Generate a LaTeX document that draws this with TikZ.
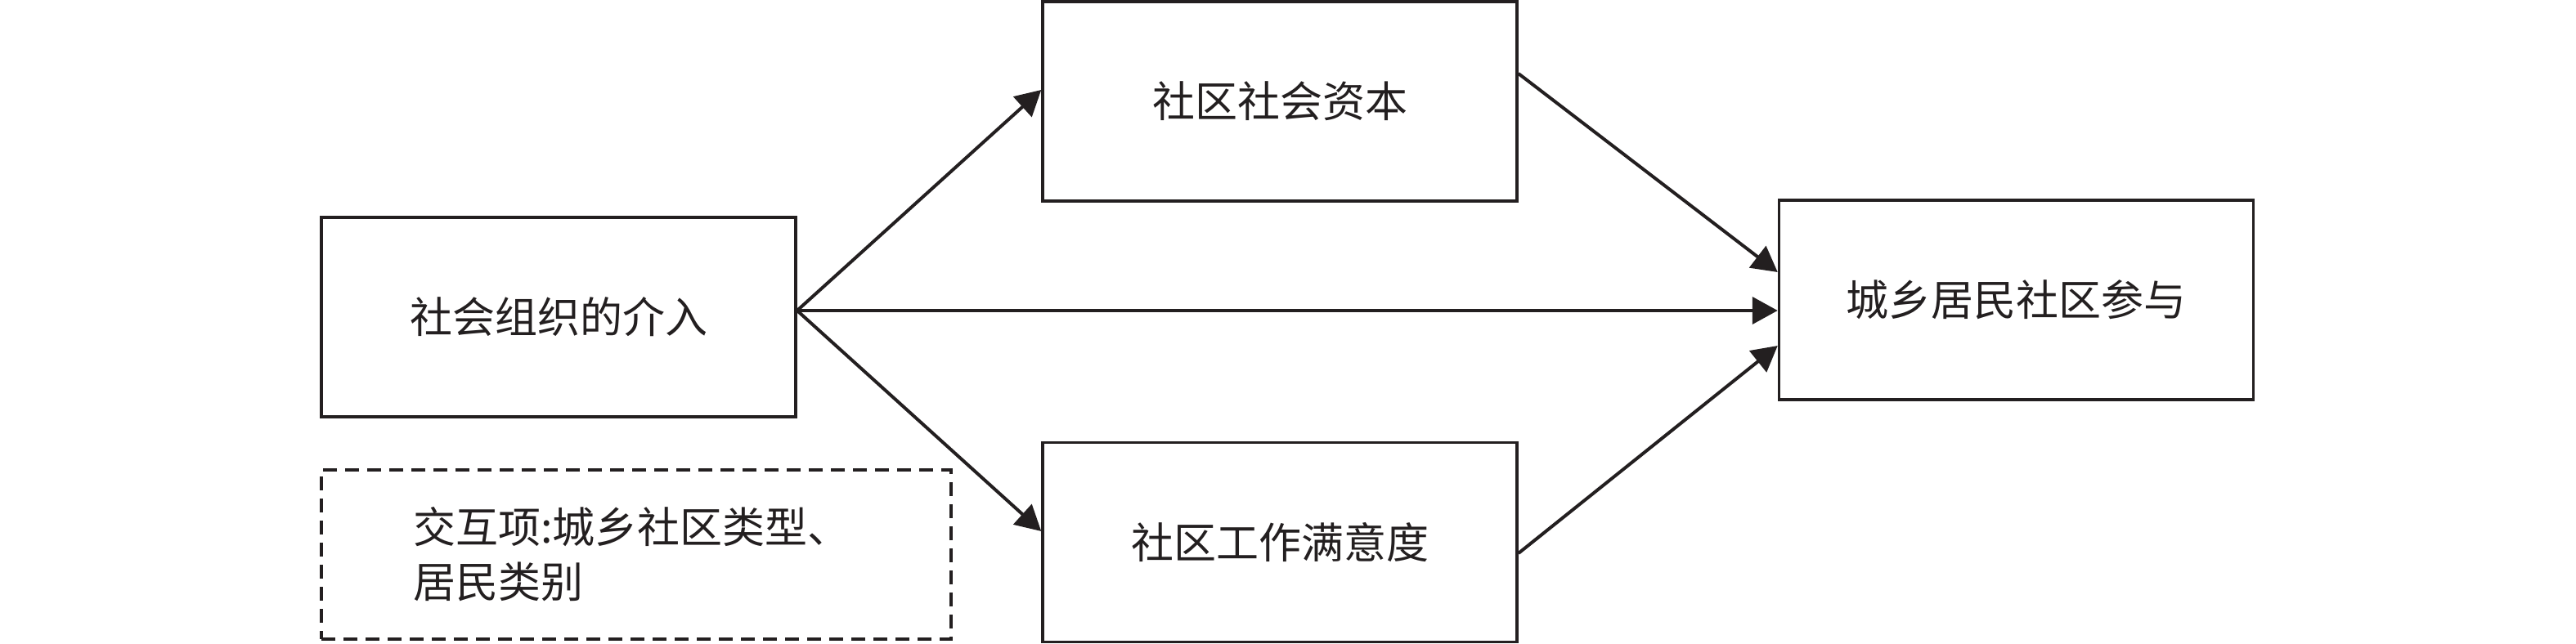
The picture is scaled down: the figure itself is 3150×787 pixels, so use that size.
\documentclass[tikz,border=0pt]{standalone}
\usepackage{fontspec}
\newfontfamily\cjk{Noto Sans CJK SC}
\usetikzlibrary{arrows.meta,calc}
\definecolor{ink}{RGB}{35,31,32}
\begin{document}
\begin{tikzpicture}[x=1pt,y=-1pt,
  box/.style={draw=ink, line width=3.5pt, minimum width=580pt, minimum height=244pt,
    inner sep=0pt, text=ink, font=\cjk\fontsize{52}{67}\selectfont},
  dbox/.style={box, dashed, dash pattern=on 17pt off 10pt, minimum width=770pt, minimum height=207pt,
    text width=546pt, align=left},
  arr/.style={draw=ink, line width=4pt, -{Triangle[length=31pt,width=33pt]}}]
\useasboundingbox (0,0) rectangle (3150,787);
\node[box] (L) at (683,388) {社会组织的介入};
\node[box] (T) at (1565,124) {社区社会资本};
\node[box] (B) at (1565,663.5) {社区工作满意度};
\node[box] (R) at (2465.5,367) {城乡居民社区参与};
\node[dbox] (D) at (778,678.5) {交互项:城乡社区类型、\\居民类别};
\coordinate (s) at ([yshift=8pt]L.east);
\draw[arr] (s) -- ([yshift=14pt]T.west);
\draw[arr] (s) -- (s -| R.west);
\draw[arr] (s) -- ([yshift=13.5pt]B.west);
\draw[arr] ([yshift=34pt]T.east) -- ([yshift=34pt]R.west);
\draw[arr] ([yshift=-13.5pt]B.east) -- ([yshift=-56pt]R.west);
\end{tikzpicture}
\end{document}
